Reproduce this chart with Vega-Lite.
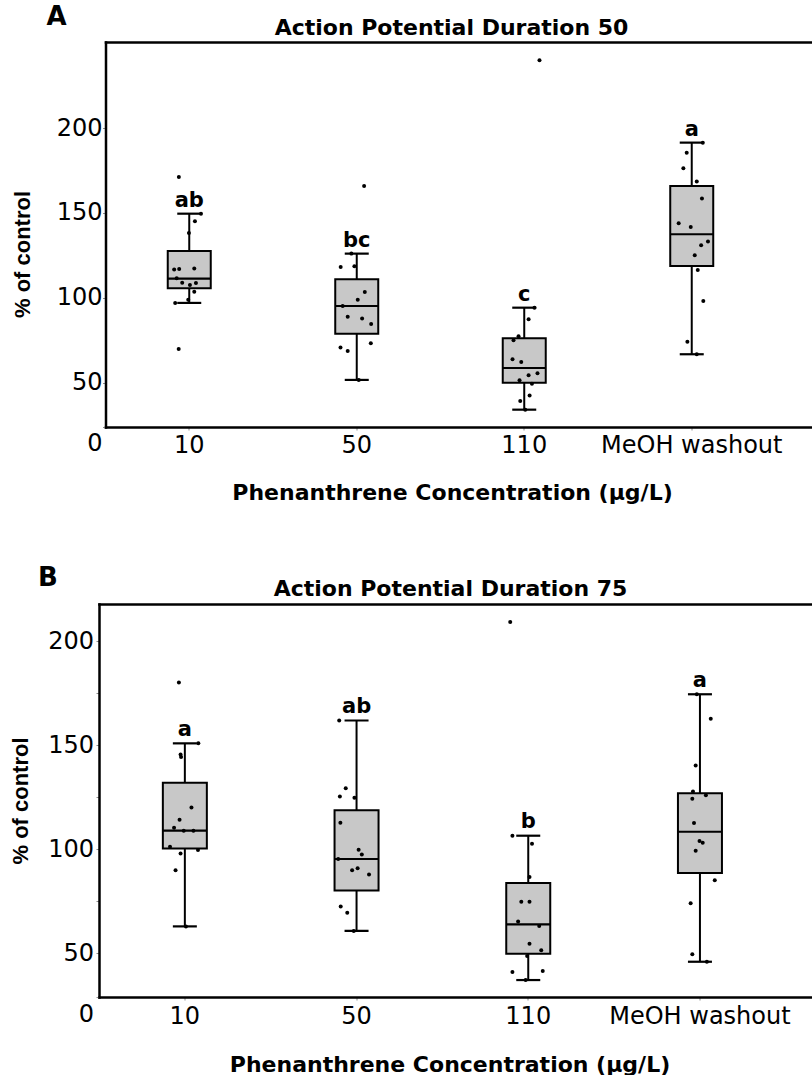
{
  "$schema": "https://vega.github.io/schema/vega-lite/v6.json",
  "background": "white",
  "padding": {"left": 8.5, "top": 4, "right": 0, "bottom": 0},
  "columns": 1,
  "align": "none",
  "spacing": 62,
  "config": {
    "font": "DejaVu Sans",
    "view": {"stroke": null},
    "axis": {
      "grid": false,
      "domainColor": "black",
      "domainWidth": 2.5,
      "domainCap": "square",
      "tickColor": "#8c8c8c",
      "tickSize": 3,
      "tickWidth": 1,
      "labelColor": "black",
      "labelFont": "DejaVu Sans",
      "labelFontSize": 24,
      "labelOverlap": false,
      "labelLimit": 400,
      "titleColor": "black",
      "titleFontWeight": "bold"
    },
    "title": {"color": "black", "font": "DejaVu Sans", "fontWeight": "bold"}
  },
  "datasets": {
    "apd50_boxes": [
      {"group": "10", "lower": 97.1, "q1": 105.7, "median": 111.4, "q3": 127.6, "upper": 149.6, "letter": "ab"},
      {"group": "50", "lower": 51.8, "q1": 79.0, "median": 95.3, "q3": 111.0, "upper": 126.1, "letter": "bc"},
      {"group": "110", "lower": 34.3, "q1": 50.2, "median": 58.8, "q3": 76.3, "upper": 94.3, "letter": "c"},
      {"group": "MeOH washout", "lower": 66.9, "q1": 118.8, "median": 137.5, "q3": 165.9, "upper": 191.4, "letter": "a"}
    ],
    "apd50_points": [
      {"group": "10", "value": 171.2, "jitter": -0.062},
      {"group": "10", "value": 149.6, "jitter": 0.070},
      {"group": "10", "value": 145.1, "jitter": 0.034},
      {"group": "10", "value": 138.2, "jitter": -0.002},
      {"group": "10", "value": 116.7, "jitter": -0.090},
      {"group": "10", "value": 117.0, "jitter": -0.060},
      {"group": "10", "value": 117.3, "jitter": 0.030},
      {"group": "10", "value": 111.6, "jitter": -0.075},
      {"group": "10", "value": 109.0, "jitter": -0.042},
      {"group": "10", "value": 107.6, "jitter": 0.004},
      {"group": "10", "value": 108.8, "jitter": 0.040},
      {"group": "10", "value": 103.7, "jitter": 0.030},
      {"group": "10", "value": 99.0, "jitter": -0.006},
      {"group": "10", "value": 97.1, "jitter": -0.084},
      {"group": "10", "value": 70.0, "jitter": -0.063},
      {"group": "50", "value": 165.9, "jitter": 0.044},
      {"group": "50", "value": 126.1, "jitter": -0.032},
      {"group": "50", "value": 118.2, "jitter": -0.096},
      {"group": "50", "value": 118.6, "jitter": -0.014},
      {"group": "50", "value": 103.5, "jitter": 0.048},
      {"group": "50", "value": 99.0, "jitter": 0.006},
      {"group": "50", "value": 95.3, "jitter": -0.084},
      {"group": "50", "value": 89.0, "jitter": -0.054},
      {"group": "50", "value": 88.0, "jitter": 0.032},
      {"group": "50", "value": 84.7, "jitter": 0.086},
      {"group": "50", "value": 73.3, "jitter": 0.084},
      {"group": "50", "value": 70.8, "jitter": -0.097},
      {"group": "50", "value": 68.8, "jitter": -0.054},
      {"group": "50", "value": 51.8, "jitter": 0.012},
      {"group": "110", "value": 239.8, "jitter": 0.091},
      {"group": "110", "value": 94.3, "jitter": 0.061},
      {"group": "110", "value": 87.5, "jitter": 0.026},
      {"group": "110", "value": 77.5, "jitter": -0.034},
      {"group": "110", "value": 75.1, "jitter": -0.064},
      {"group": "110", "value": 63.9, "jitter": -0.070},
      {"group": "110", "value": 62.4, "jitter": -0.018},
      {"group": "110", "value": 55.7, "jitter": 0.079},
      {"group": "110", "value": 54.5, "jitter": 0.026},
      {"group": "110", "value": 51.6, "jitter": -0.028},
      {"group": "110", "value": 49.6, "jitter": 0.046},
      {"group": "110", "value": 42.7, "jitter": 0.032},
      {"group": "110", "value": 39.4, "jitter": -0.024},
      {"group": "110", "value": 34.3, "jitter": 0.006},
      {"group": "MeOH washout", "value": 191.4, "jitter": 0.066},
      {"group": "MeOH washout", "value": 185.5, "jitter": -0.030},
      {"group": "MeOH washout", "value": 176.3, "jitter": -0.050},
      {"group": "MeOH washout", "value": 168.5, "jitter": 0.030},
      {"group": "MeOH washout", "value": 158.6, "jitter": 0.061},
      {"group": "MeOH washout", "value": 143.9, "jitter": -0.078},
      {"group": "MeOH washout", "value": 141.8, "jitter": -0.006},
      {"group": "MeOH washout", "value": 133.3, "jitter": 0.097},
      {"group": "MeOH washout", "value": 131.0, "jitter": 0.056},
      {"group": "MeOH washout", "value": 125.1, "jitter": 0.018},
      {"group": "MeOH washout", "value": 116.5, "jitter": 0.036},
      {"group": "MeOH washout", "value": 98.2, "jitter": 0.069},
      {"group": "MeOH washout", "value": 74.3, "jitter": -0.026},
      {"group": "MeOH washout", "value": 66.9, "jitter": 0.030}
    ],
    "apd75_boxes": [
      {"group": "10", "lower": 62.8, "q1": 100.3, "median": 108.8, "q3": 131.9, "upper": 150.8, "letter": "a"},
      {"group": "50", "lower": 60.6, "q1": 80.1, "median": 95.2, "q3": 118.6, "upper": 161.8, "letter": "ab"},
      {"group": "110", "lower": 37.0, "q1": 49.7, "median": 63.8, "q3": 83.7, "upper": 106.4, "letter": "b"},
      {"group": "MeOH washout", "lower": 45.8, "q1": 88.5, "median": 108.3, "q3": 126.8, "upper": 174.4, "letter": "a"}
    ],
    "apd75_points": [
      {"group": "10", "value": 180.0, "jitter": -0.023},
      {"group": "10", "value": 150.8, "jitter": 0.093},
      {"group": "10", "value": 145.5, "jitter": -0.013},
      {"group": "10", "value": 144.2, "jitter": -0.010},
      {"group": "10", "value": 119.9, "jitter": 0.052},
      {"group": "10", "value": 114.1, "jitter": -0.019},
      {"group": "10", "value": 110.2, "jitter": -0.052},
      {"group": "10", "value": 108.8, "jitter": 0.006},
      {"group": "10", "value": 108.8, "jitter": 0.064},
      {"group": "10", "value": 101.1, "jitter": -0.076},
      {"group": "10", "value": 99.5, "jitter": 0.091},
      {"group": "10", "value": 97.9, "jitter": -0.013},
      {"group": "10", "value": 89.8, "jitter": -0.043},
      {"group": "10", "value": 62.8, "jitter": 0.019},
      {"group": "50", "value": 161.8, "jitter": -0.091},
      {"group": "50", "value": 129.2, "jitter": -0.052},
      {"group": "50", "value": 125.2, "jitter": -0.087},
      {"group": "50", "value": 124.7, "jitter": 0.0},
      {"group": "50", "value": 112.6, "jitter": -0.084},
      {"group": "50", "value": 99.7, "jitter": 0.025},
      {"group": "50", "value": 97.4, "jitter": 0.044},
      {"group": "50", "value": 95.2, "jitter": -0.097},
      {"group": "50", "value": 90.7, "jitter": 0.019},
      {"group": "50", "value": 89.8, "jitter": -0.014},
      {"group": "50", "value": 87.8, "jitter": 0.087},
      {"group": "50", "value": 72.4, "jitter": -0.082},
      {"group": "50", "value": 69.4, "jitter": -0.043},
      {"group": "50", "value": 60.6, "jitter": -0.004},
      {"group": "110", "value": 209.1, "jitter": -0.095},
      {"group": "110", "value": 106.4, "jitter": -0.082},
      {"group": "110", "value": 102.5, "jitter": 0.035},
      {"group": "110", "value": 86.5, "jitter": 0.020},
      {"group": "110", "value": 74.7, "jitter": -0.029},
      {"group": "110", "value": 74.7, "jitter": 0.020},
      {"group": "110", "value": 65.1, "jitter": -0.048},
      {"group": "110", "value": 63.0, "jitter": 0.078},
      {"group": "110", "value": 54.5, "jitter": 0.020},
      {"group": "110", "value": 51.3, "jitter": 0.090},
      {"group": "110", "value": 48.6, "jitter": 0.006},
      {"group": "110", "value": 40.9, "jitter": -0.082},
      {"group": "110", "value": 41.3, "jitter": 0.099},
      {"group": "110", "value": 37.0, "jitter": -0.003},
      {"group": "MeOH washout", "value": 174.4, "jitter": -0.006},
      {"group": "MeOH washout", "value": 162.6, "jitter": 0.077},
      {"group": "MeOH washout", "value": 140.1, "jitter": -0.013},
      {"group": "MeOH washout", "value": 127.6, "jitter": -0.029},
      {"group": "MeOH washout", "value": 124.2, "jitter": -0.033},
      {"group": "MeOH washout", "value": 125.8, "jitter": 0.048},
      {"group": "MeOH washout", "value": 112.5, "jitter": -0.023},
      {"group": "MeOH washout", "value": 103.8, "jitter": 0.010},
      {"group": "MeOH washout", "value": 103.0, "jitter": 0.029},
      {"group": "MeOH washout", "value": 99.2, "jitter": -0.013},
      {"group": "MeOH washout", "value": 85.0, "jitter": 0.101},
      {"group": "MeOH washout", "value": 73.9, "jitter": -0.043},
      {"group": "MeOH washout", "value": 49.4, "jitter": -0.033},
      {"group": "MeOH washout", "value": 45.8, "jitter": 0.054}
    ]
  },
  "concat": [
    {
      "width": 706,
      "height": 385,
      "title": {"text": "A", "anchor": "start", "frame": "group", "fontSize": 26, "baseline": "alphabetic", "offset": -35, "dx": -59},
      "resolve": {"axis": {"x": "independent"}},
      "layer": [
        {
          "data": {"name": "apd50_boxes"},
          "mark": {"type": "rule", "color": "black", "strokeWidth": 2},
          "encoding": {
            "x": {
              "field": "group", "type": "nominal",
              "scale": {"type": "band", "domain": ["10", "50", "110", "MeOH washout"], "paddingInner": 0, "paddingOuter": 0.1075, "align": 0},
              "axis": {"orient": "bottom", "title": "Phenanthrene Concentration (µg/L)", "labelAngle": 0, "labelPadding": 3, "titleFont": "DejaVu Sans", "titleFontSize": 22, "titlePadding": 25, "titleX": 346.5, "domain": true}
            },
            "y": {
              "field": "lower", "type": "quantitative",
              "scale": {"domain": [24.1, 250.6], "nice": false, "zero": false},
              "axis": {
                "title": "% of control", "titleFont": "Liberation Sans", "titleFontSize": 22, "titlePadding": 22, "titleY": 212,
                "values": [24.1, 50, 100, 150, 200], "format": ".0f",
                "labelExpr": "datum.value < 30 ? '0' : datum.label",
                "labelPadding": 0.5,
                "labelOffset": {"condition": {"test": "datum.value < 30", "value": 16}, "value": 0}
              }
            },
            "y2": {"field": "upper"}
          }
        },
        {
          "data": {"name": "apd50_boxes"},
          "mark": {"type": "bar", "size": 43, "fill": "#c8c8c8", "stroke": "black", "strokeWidth": 2},
          "encoding": {
            "x": {"field": "group", "type": "nominal", "axis": {"orient": "top", "labels": false, "ticks": false, "title": "Action Potential Duration 50", "titleFont": "DejaVu Sans", "titleFontSize": 22, "titleBaseline": "alphabetic", "titlePadding": 8, "titleX": 345.5, "domain": true}},
            "y": {"field": "q1", "type": "quantitative"},
            "y2": {"field": "q3"}
          }
        },
        {
          "data": {"name": "apd50_boxes"},
          "mark": {"type": "tick", "size": 43, "thickness": 2.2, "color": "black", "opacity": 1},
          "encoding": {
            "x": {"field": "group", "type": "nominal", "axis": null},
            "y": {"field": "median", "type": "quantitative"}
          }
        },
        {
          "data": {"name": "apd50_boxes"},
          "mark": {"type": "tick", "size": 24, "thickness": 2.2, "color": "black", "opacity": 1},
          "encoding": {
            "x": {"field": "group", "type": "nominal", "axis": null},
            "y": {"field": "upper", "type": "quantitative"}
          }
        },
        {
          "data": {"name": "apd50_boxes"},
          "mark": {"type": "tick", "size": 24, "thickness": 2.2, "color": "black", "opacity": 1},
          "encoding": {
            "x": {"field": "group", "type": "nominal", "axis": null},
            "y": {"field": "lower", "type": "quantitative"}
          }
        },
        {
          "data": {"name": "apd50_points"},
          "mark": {"type": "circle", "size": 16, "color": "black", "opacity": 1},
          "encoding": {
            "x": {"field": "group", "type": "nominal", "axis": null},
            "xOffset": {"field": "jitter", "type": "quantitative", "scale": {"domain": [-0.5, 0.5], "nice": false, "zero": false}},
            "y": {"field": "value", "type": "quantitative"}
          }
        },
        {
          "data": {"name": "apd50_boxes"},
          "mark": {"type": "text", "font": "DejaVu Sans", "fontSize": 21, "fontWeight": "bold", "baseline": "alphabetic", "dy": -7, "color": "black"},
          "encoding": {
            "x": {"field": "group", "type": "nominal", "axis": null},
            "y": {"field": "upper", "type": "quantitative"},
            "text": {"field": "letter"}
          }
        }
      ]
    },
    {
      "width": 706.5,
      "height": 393,
      "title": {"text": "B", "anchor": "start", "frame": "group", "fontSize": 26, "baseline": "alphabetic", "offset": -35, "dx": -67.5},
      "resolve": {"axis": {"x": "independent"}},
      "layer": [
        {
          "data": {"name": "apd75_boxes"},
          "mark": {"type": "rule", "color": "black", "strokeWidth": 2},
          "encoding": {
            "x": {
              "field": "group", "type": "nominal",
              "scale": {"type": "band", "domain": ["10", "50", "110", "MeOH washout"], "range": [-6.5, 706.5], "paddingInner": 0, "paddingOuter": 0.0763, "align": 0},
              "axis": {"orient": "bottom", "title": "Phenanthrene Concentration (µg/L)", "labelAngle": 0, "labelPadding": 4, "titleFont": "DejaVu Sans", "titleFontSize": 22, "titlePadding": 26, "titleX": 344, "domain": true}
            },
            "y": {
              "field": "lower", "type": "quantitative",
              "scale": {"domain": [28.85, 217.8], "nice": false, "zero": false},
              "axis": {
                "title": "% of control", "titleFont": "Liberation Sans", "titleFontSize": 22, "titlePadding": 15.5,
                "offset": 6.5,
                "values": [28.85, 50, 75, 100, 125, 150, 175, 200], "format": ".0f",
                "labelExpr": "datum.value < 30 ? '0' : (datum.value % 50 == 0 ? datum.label : '')",
                "labelPadding": 2.5,
                "labelOffset": {"condition": {"test": "datum.value < 30", "value": 17}, "value": 0}
              }
            },
            "y2": {"field": "upper"}
          }
        },
        {
          "data": {"name": "apd75_boxes"},
          "mark": {"type": "bar", "size": 44, "fill": "#c8c8c8", "stroke": "black", "strokeWidth": 2},
          "encoding": {
            "x": {"field": "group", "type": "nominal", "axis": {"orient": "top", "labels": false, "ticks": false, "title": "Action Potential Duration 75", "titleFont": "DejaVu Sans", "titleFontSize": 22, "titleBaseline": "alphabetic", "titlePadding": 9, "titleX": 344.5, "domain": true}},
            "y": {"field": "q1", "type": "quantitative"},
            "y2": {"field": "q3"}
          }
        },
        {
          "data": {"name": "apd75_boxes"},
          "mark": {"type": "tick", "size": 44, "thickness": 2.2, "color": "black", "opacity": 1},
          "encoding": {
            "x": {"field": "group", "type": "nominal", "axis": null},
            "y": {"field": "median", "type": "quantitative"}
          }
        },
        {
          "data": {"name": "apd75_boxes"},
          "mark": {"type": "tick", "size": 24, "thickness": 2.2, "color": "black", "opacity": 1},
          "encoding": {
            "x": {"field": "group", "type": "nominal", "axis": null},
            "y": {"field": "upper", "type": "quantitative"}
          }
        },
        {
          "data": {"name": "apd75_boxes"},
          "mark": {"type": "tick", "size": 24, "thickness": 2.2, "color": "black", "opacity": 1},
          "encoding": {
            "x": {"field": "group", "type": "nominal", "axis": null},
            "y": {"field": "lower", "type": "quantitative"}
          }
        },
        {
          "data": {"name": "apd75_points"},
          "mark": {"type": "circle", "size": 16, "color": "black", "opacity": 1},
          "encoding": {
            "x": {"field": "group", "type": "nominal", "axis": null},
            "xOffset": {"field": "jitter", "type": "quantitative", "scale": {"domain": [-0.5, 0.5], "nice": false, "zero": false}},
            "y": {"field": "value", "type": "quantitative"}
          }
        },
        {
          "data": {"name": "apd75_boxes"},
          "mark": {"type": "text", "font": "DejaVu Sans", "fontSize": 21, "fontWeight": "bold", "baseline": "alphabetic", "dy": -7.5, "color": "black"},
          "encoding": {
            "x": {"field": "group", "type": "nominal", "axis": null},
            "y": {"field": "upper", "type": "quantitative"},
            "text": {"field": "letter"}
          }
        }
      ]
    }
  ]
}
